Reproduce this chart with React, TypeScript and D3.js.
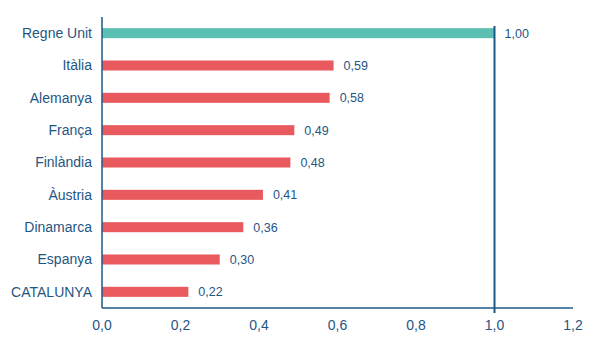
import React from "react";
import * as d3 from "d3";

const categories = ["Regne Unit", "Itàlia", "Alemanya", "França", "Finlàndia", "Àustria", "Dinamarca", "Espanya", "CATALUNYA"];
const values = [1.0, 0.59, 0.58, 0.49, 0.48, 0.41, 0.36, 0.3, 0.22];
const xTicks = [0, 0.2, 0.4, 0.6, 0.8, 1.0, 1.2];
const referenceValue = 1.0;

const W = 600, H = 343;
const M = { left: 102, right: 27, top: 17, bottom: 35 };
const axisColor = "#1b5a87";
const textColor = "#1f5683";
const fmt = (v: number, d: number) => v.toFixed(d).replace(".", ",");

export default function App() {
  const x = d3.scaleLinear().domain([0, 1.2]).range([M.left, W - M.right]);
  const y = d3.scaleBand<string>().domain(categories).range([M.top, H - M.bottom]).paddingInner(0.69).paddingOuter(0.345);
  const bottom = H - M.bottom;
  return (
    <svg width={W} height={H} style={{ position: "absolute", left: 0, top: 0, fontFamily: "'Liberation Sans', Arial, sans-serif" }}>
      <rect width={W} height={H} fill="#fff" />
      {categories.map((c, i) => (
        <g key={c}>
          <rect x={x(0)} y={y(c)!} width={x(values[i]) - x(0)} height={y.bandwidth()} fill={i === 0 ? "#5bbfb1" : "#e95a5e"} />
          <text x={M.left - 10} y={y(c)! + y.bandwidth() / 2} dy="0.35em" textAnchor="end" fontSize={14} fill={textColor}>{c}</text>
          <text x={x(values[i]) + 10} y={y(c)! + y.bandwidth() / 2} dy="0.35em" fontSize={12.5} fill={textColor}>{fmt(values[i], 2)}</text>
        </g>
      ))}
      <line x1={x(0)} x2={x(0)} y1={M.top} y2={bottom} stroke={axisColor} strokeWidth={1.5} />
      <line x1={x(0)} x2={x(1.2)} y1={bottom} y2={bottom} stroke={axisColor} strokeWidth={1.5} />
      <line x1={x(referenceValue)} x2={x(referenceValue)} y1={M.top + 9} y2={bottom + 5} stroke={axisColor} strokeWidth={2} />
      {xTicks.map(t => (
        <text key={t} x={x(t)} y={bottom + 22} textAnchor="middle" fontSize={14} fill={textColor}>{fmt(t, 1)}</text>
      ))}
    </svg>
  );
}
